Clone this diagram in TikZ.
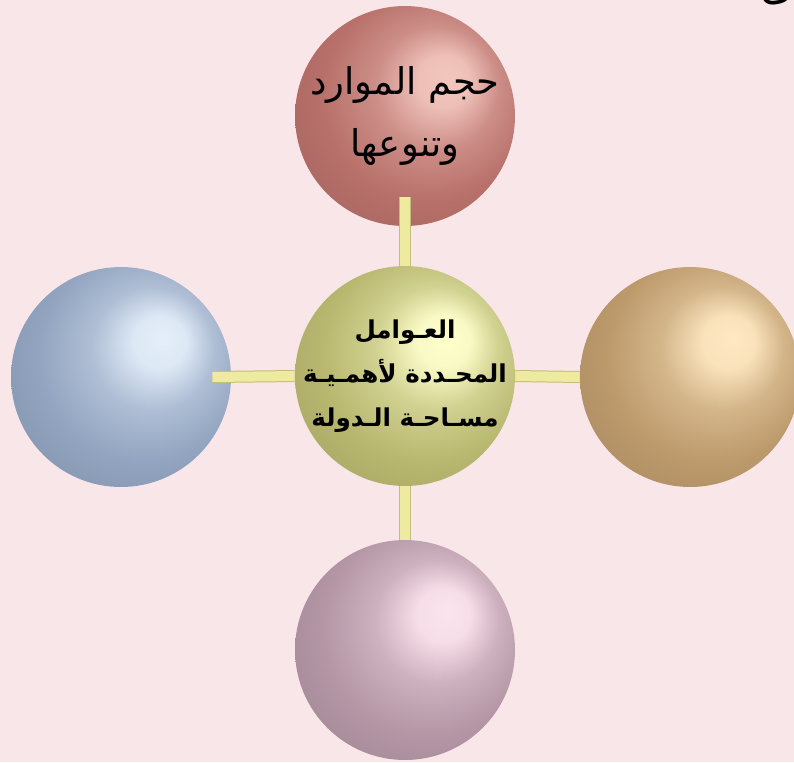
\documentclass[tikz,border=0pt]{standalone}
\usepackage{fontspec}
\newfontfamily\arabicfont[Script=Arabic]{DejaVu Sans}
\TeXXeTstate=1
\definecolor{bgpink}{RGB}{249,230,232}
\definecolor{barfill}{RGB}{238,234,160}
\definecolor{baredge}{RGB}{196,190,118}
\definecolor{ballred}{RGB}{184,112,106}
\definecolor{litered}{RGB}{242,198,190}
\definecolor{ballolive}{RGB}{184,184,112}
\definecolor{liteolive}{RGB}{255,255,205}
\definecolor{ballblue}{RGB}{146,164,192}
\definecolor{liteblue}{RGB}{228,238,250}
\definecolor{balltan}{RGB}{188,154,108}
\definecolor{litetan}{RGB}{255,232,194}
\definecolor{ballmauve}{RGB}{180,150,165}
\definecolor{litemauve}{RGB}{252,228,238}
\colorlet{sphcol}{gray}
\colorlet{sphlite}{white}
\pgfdeclareradialshading[sphcol,sphlite]{sphere}{\pgfqpoint{10bp}{9bp}}{%
  color(0bp)=(sphlite); color(6bp)=(sphlite!92!sphcol);
  color(14bp)=(sphlite!35!sphcol); color(24bp)=(sphcol);
  color(40bp)=(sphcol!86!black); color(50bp)=(sphcol!74!black)}

\begin{document}
\begin{tikzpicture}[x=0.02cm,y=-0.02cm,
    sph color/.code 2 args={\colorlet{sphcol}{#1}\colorlet{sphlite}{#2}\tikzset{shading=sphere}},
    ball/.style 2 args={circle,minimum size=4.4cm,inner sep=-1cm,sph color={#1}{#2},align=center},
    bar/.style={draw=baredge,double=barfill,double distance=0.2cm,line width=0.02cm}]
  \useasboundingbox[fill=bgpink] (0,0) rectangle (794,762);
  % the five spheres
  \node[ball={ballred}{litered},font=\arabicfont\fontsize{21}{35}\selectfont] (resources) at (405,116)
      {\beginR حجم الموارد\endR\\\beginR وتنوعها\endR};
  \node[ball={ballblue}{liteblue}] (leftball) at (121,377) {};
  \node[ball={balltan}{litetan}] (rightball) at (690,377) {};
  \node[ball={ballmauve}{litemauve}] (bottomball) at (405,650) {};
  \node[ball={ballolive}{liteolive},font=\arabicfont\bfseries\fontsize{14}{25}\selectfont] (factors) at (405,376)
      {\beginR العـوامل\endR\\\beginR المحـددة لأهمـيـة\endR\\\beginR مسـاحـة الـدولة\endR};
  % yellow bars
  \draw[bar] (factors.north) -- ([yshift=0.58cm]resources.south);
  \draw[bar] (factors.west) -- ([xshift=-0.38cm]leftball.east);
  \draw[bar] (factors.east) -- (rightball.west);
  \draw[bar] (factors.south) -- (bottomball.north);
  % cut line of the page above
  \node[anchor=east,inner sep=0pt,font=\arabicfont\fontsize{24}{28}\selectfont] (cutline) at (794,-6)
      {\beginR ى.\endR};
\end{tikzpicture}
\end{document}
